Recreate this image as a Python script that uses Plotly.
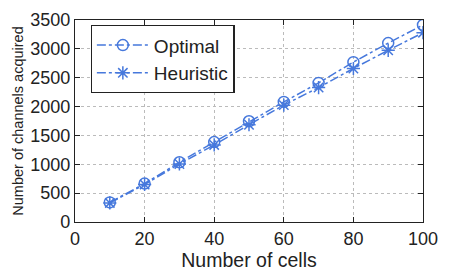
import plotly.graph_objects as go

cells = [10, 20, 30, 40, 50, 60, 70, 80, 90, 100]
optimal = [340, 665, 1035, 1385, 1745, 2080, 2410, 2770, 3100, 3415]
heuristic = [330, 650, 1005, 1335, 1685, 2025, 2330, 2660, 2975, 3280]

color = "#4678dc"
fig = go.Figure()
fig.add_trace(go.Scatter(x=cells, y=optimal, name="Optimal", mode="lines+markers",
                         line=dict(color=color, width=1.5, dash="dashdot"),
                         marker=dict(symbol="circle-open", size=11, color=color, line=dict(width=1.5))))
fig.add_trace(go.Scatter(x=cells, y=heuristic, name="Heuristic", mode="lines+markers",
                         line=dict(color=color, width=1.5, dash="dashdot"),
                         marker=dict(symbol="asterisk-open", size=11, color=color, line=dict(width=1.5))))

axis_common = dict(showline=True, linecolor="#222", linewidth=1.2, mirror="ticks",
                   ticks="inside", ticklen=5, tickcolor="#222",
                   showgrid=True, gridcolor="#bbb", griddash="dot", gridwidth=1,
                   zeroline=False, tickfont=dict(size=18, color="#222", family="Liberation Sans"))
fig.update_xaxes(range=[0, 100], dtick=20, title=dict(text="Number of cells", font=dict(size=19.5, color="#222", family="Liberation Sans"), standoff=0), **axis_common)
fig.update_yaxes(range=[0, 3500], dtick=500, title=dict(text="Number of channels acquired", font=dict(size=14.5, color="#222", family="Liberation Sans"), standoff=3), **axis_common)

fig.update_layout(width=454, height=272, margin=dict(l=75, r=31, t=10, b=50),
                  plot_bgcolor="white", paper_bgcolor="white",
                  legend=dict(x=0.045, y=0.975, xanchor="left", yanchor="top",
                              bordercolor="#222", borderwidth=1.2, bgcolor="white",
                              font=dict(size=19, color="#222", family="Liberation Sans"),
                              tracegroupgap=0, itemwidth=52),
                  showlegend=True)
fig.write_html("out.html")
